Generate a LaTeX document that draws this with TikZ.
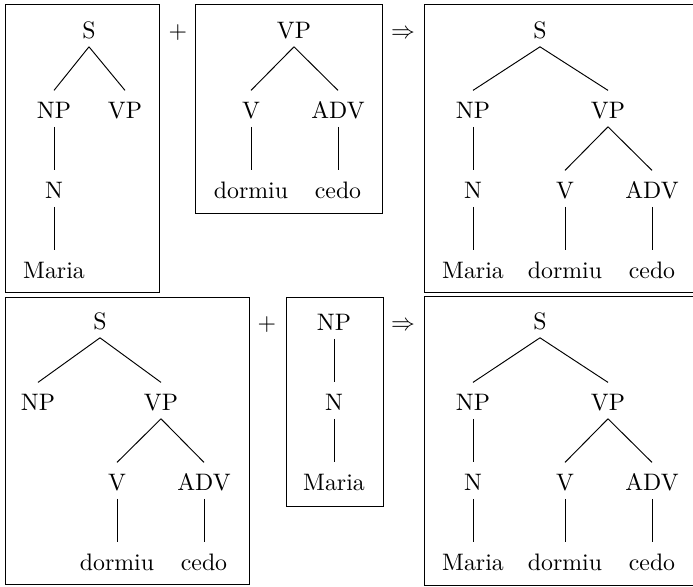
\documentclass[tikz,border=0pt]{standalone}
\begin{document}
\begin{tikzpicture}[x=0.42pt,y=-0.42pt,
  lbl/.style={anchor=base, inner xsep=0pt, inner ysep=3.5pt, text height=7.9pt, text depth=0pt},
  op/.style={anchor=base, inner sep=0pt},
  frame/.style={draw, line width=0.4pt},
  branch/.style={line width=0.4pt}]
\useasboundingbox (0,0) rectangle (693,586);
\clip (0,0) rectangle (693,586);

% frames
\draw[frame] (5.5,4.5) rectangle (159,292.5);
\draw[frame] (195,4.5) rectangle (382.5,213.5);
\draw[frame] (424.5,4.5) rectangle (700,292.5);
\draw[frame] (5.5,297) rectangle (249,584);
\draw[frame] (286,297) rectangle (383,506);
\draw[frame] (424.5,296.5) rectangle (700,585);

% operators
\node[op] (plusA) at (178,38) {$+$};
\node[op] (impA) at (403,38) {$\Rightarrow$};
\node[op] (plusB) at (267,330) {$+$};
\node[op] (impB) at (403,330) {$\Rightarrow$};

% tree 1: [S [NP [N Maria]] VP]
\node[lbl] (a-s) at (89,38) {S};
\node[lbl] (a-np) at (54,118) {NP};
\node[lbl] (a-vp) at (125,118) {VP};
\node[lbl] (a-n) at (54,198) {N};
\node[lbl] (a-maria) at (54,278) {Maria};
\draw[branch] (a-s.south) -- (a-np.north);
\draw[branch] (a-s.south) -- (a-vp.north);
\draw[branch] (a-np.south) -- (a-n.north);
\draw[branch] (a-n.south) -- (a-maria.north);

% tree 2: [VP [V dormiu] [ADV cedo]]
\node[lbl] (b-vp) at (294,38) {VP};
\node[lbl] (b-v) at (251,118) {V};
\node[lbl] (b-adv) at (338,118) {ADV};
\node[lbl] (b-dormiu) at (251,198) {dormiu};
\node[lbl] (b-cedo) at (338,198) {cedo};
\draw[branch] (b-vp.south) -- (b-v.north);
\draw[branch] (b-vp.south) -- (b-adv.north);
\draw[branch] (b-v.south) -- (b-dormiu.north);
\draw[branch] (b-adv.south) -- (b-cedo.north);

% tree 3: full sentence
\node[lbl] (c-s) at (540,38) {S};
\node[lbl] (c-np) at (473,118) {NP};
\node[lbl] (c-vp) at (608,118) {VP};
\node[lbl] (c-n) at (473,198) {N};
\node[lbl] (c-v) at (565,198) {V};
\node[lbl] (c-adv) at (652,198) {ADV};
\node[lbl] (c-maria) at (473,278) {Maria};
\node[lbl] (c-dormiu) at (565,278) {dormiu};
\node[lbl] (c-cedo) at (652,278) {cedo};
\draw[branch] (c-s.south) -- (c-np.north);
\draw[branch] (c-s.south) -- (c-vp.north);
\draw[branch] (c-np.south) -- (c-n.north);
\draw[branch] (c-vp.south) -- (c-v.north);
\draw[branch] (c-vp.south) -- (c-adv.north);
\draw[branch] (c-n.south) -- (c-maria.north);
\draw[branch] (c-v.south) -- (c-dormiu.north);
\draw[branch] (c-adv.south) -- (c-cedo.north);

% tree 4: [S NP [VP [V dormiu] [ADV cedo]]]
\node[lbl] (d-s) at (100,329) {S};
\node[lbl] (d-np) at (38,410) {NP};
\node[lbl] (d-vp) at (161,410) {VP};
\node[lbl] (d-v) at (117,490) {V};
\node[lbl] (d-adv) at (204,490) {ADV};
\node[lbl] (d-dormiu) at (117,570) {dormiu};
\node[lbl] (d-cedo) at (204,570) {cedo};
\draw[branch] (d-s.south) -- (d-np.north);
\draw[branch] (d-s.south) -- (d-vp.north);
\draw[branch] (d-vp.south) -- (d-v.north);
\draw[branch] (d-vp.south) -- (d-adv.north);
\draw[branch] (d-v.south) -- (d-dormiu.north);
\draw[branch] (d-adv.south) -- (d-cedo.north);

% tree 5: [NP [N Maria]]
\node[lbl] (e-np) at (334,330) {NP};
\node[lbl] (e-n) at (334,410) {N};
\node[lbl] (e-maria) at (334,490) {Maria};
\draw[branch] (e-np.south) -- (e-n.north);
\draw[branch] (e-n.south) -- (e-maria.north);

% tree 6: full sentence
\node[lbl] (f-s) at (540,329) {S};
\node[lbl] (f-np) at (473,410) {NP};
\node[lbl] (f-vp) at (608,410) {VP};
\node[lbl] (f-n) at (473,490) {N};
\node[lbl] (f-v) at (565,490) {V};
\node[lbl] (f-adv) at (652,490) {ADV};
\node[lbl] (f-maria) at (473,570) {Maria};
\node[lbl] (f-dormiu) at (565,570) {dormiu};
\node[lbl] (f-cedo) at (652,570) {cedo};
\draw[branch] (f-s.south) -- (f-np.north);
\draw[branch] (f-s.south) -- (f-vp.north);
\draw[branch] (f-np.south) -- (f-n.north);
\draw[branch] (f-vp.south) -- (f-v.north);
\draw[branch] (f-vp.south) -- (f-adv.north);
\draw[branch] (f-n.south) -- (f-maria.north);
\draw[branch] (f-v.south) -- (f-dormiu.north);
\draw[branch] (f-adv.south) -- (f-cedo.north);
\end{tikzpicture}
\end{document}
